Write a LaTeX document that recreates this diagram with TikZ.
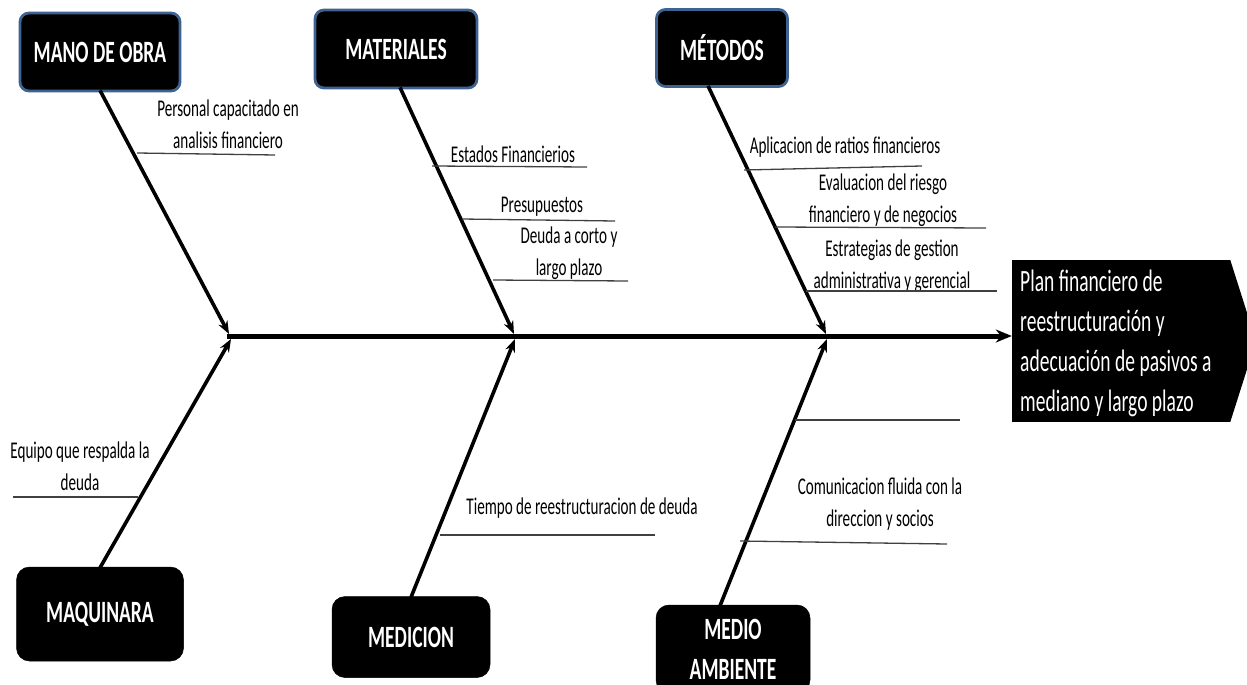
\documentclass[tikz,border=0pt]{standalone}
\usepackage{fontspec}
\setmainfont{Carlito}[FakeStretch=0.63]
\usetikzlibrary{arrows.meta}
\definecolor{bordblue}{HTML}{3F6390}
\definecolor{subgray}{HTML}{404040}
\tikzset{
  catbox/.style={fill=black, text=white, font=\bfseries\fontsize{31}{40}\selectfont, align=center, inner sep=0pt},
  topcat/.style={catbox, draw=bordblue, line width=2.8pt, rounded corners=9pt},
  botcat/.style={catbox, draw=black, line width=0.5pt, rounded corners=13pt},
  bone/.style={line width=3.6pt, -{Stealth[length=13pt,width=10pt]}},
  spine/.style={line width=5pt, -{Stealth[length=16pt,width=13pt]}},
  sub/.style={line width=1.3pt, draw=subgray},
  lbl/.style={font=\fontsize{24}{32}\selectfont, align=center, inner sep=0pt, text=black},
  headbox/.style={fill=black, minimum width=218pt, minimum height=162pt, inner sep=0pt, anchor=center},
  headtext/.style={text=white, font=\fontsize{31}{40}\selectfont, align=left, inner sep=0pt, anchor=west}
}
\begin{document}
\begin{tikzpicture}[x=1pt,y=-1pt]
\useasboundingbox (0,0) rectangle (1247,685);
% category boxes
\node[topcat, minimum width=160pt, minimum height=78pt] (mano) at (100,52) {MANO DE OBRA};
\node[topcat, minimum width=162pt, minimum height=78pt] (mat) at (396,49) {MATERIALES};
\node[topcat, minimum width=131pt, minimum height=77pt] (met) at (722,48) {MÉTODOS};
\node[botcat, minimum width=167pt, minimum height=94pt] (maq) at (100,614) {MAQUINARA};
\node[botcat, minimum width=158pt, minimum height=81pt] (med) at (411,637) {MEDICION};
\node[botcat, minimum width=154pt, minimum height=88pt] (amb) at (733,649) {MEDIO\\AMBIENTE};
% head
\node[headbox] (head) at (1121,341) {};
\coordinate (tip) at (1256,341);
\fill (head.north east) -- (tip) -- (head.south east) -- cycle;
\node[headtext] (headtxt) at (1020,343) {Plan financiero de\\reestructuración y\\adecuación de pasivos a\\mediano y largo plazo};
% joints
\coordinate (sp) at (227,336);
\coordinate (jt1) at (229,334);
\coordinate (jt2) at (514,334);
\coordinate (jt3) at (826,334);
\coordinate (jb1) at (231,339);
\coordinate (jb2) at (515,339);
\coordinate (jb3) at (827,339);
% spine
\draw[spine] (sp) -- (sp -| head.west);
% bones
\draw[bone] ([yshift=2pt]mano.south) -- (jt1);
\draw[bone] ([xshift=4pt,yshift=2pt]mat.south) -- (jt2);
\draw[bone] ([xshift=-14pt,yshift=2pt]met.south) -- (jt3);
\draw[bone] ([yshift=-1pt]maq.north) -- (jb1);
\draw[bone] ([yshift=-1pt]med.north) -- (jb2);
\draw[bone] ([xshift=-13pt,yshift=-1pt]amb.north) -- (jb3);
% labels
\node[lbl] (pers) at (228,124) {Personal capacitado en\\analisis financiero};
\node[lbl] (est) at (513,154) {Estados Financierios};
\node[lbl] (pre) at (542,207) {Presupuestos};
\node[lbl] (deu) at (569,253) {Deuda a corto y\\largo plazo};
\node[lbl] (apl) at (845,147) {Aplicacion de ratios financieros};
\node[lbl] (eva) at (883,200) {Evaluacion del riesgo\\financiero y de negocios};
\node[lbl] (estr) at (892,266) {Estrategias de gestion\\administrativa y gerencial};
\node[lbl] (equ) at (80,466) {Equipo que respalda la\\deuda};
\node[lbl] (tie) at (582,508) {Tiempo de reestructuracion de deuda};
\node[lbl] (com) at (880,504) {Comunicacion fluida con la\\direccion y socios};
% sub-cause lines
\draw[sub] (137,153) -- (275,155);
\draw[sub] (432,166) -- (587,167);
\draw[sub] (462,219) -- (615,221);
\draw[sub] (493,280) -- (628,281);
\draw[sub] (744,170) -- (922,166);
\draw[sub] (775,227) -- (986,228);
\draw[sub] (806,291) -- (997,291);
\draw[sub] (13,497) -- (138,497);
\draw[sub] (440,535) -- (655,535);
\draw[sub] (795,420) -- (960,420);
\draw[sub] (740,541) -- (947,544);
\end{tikzpicture}
\end{document}
